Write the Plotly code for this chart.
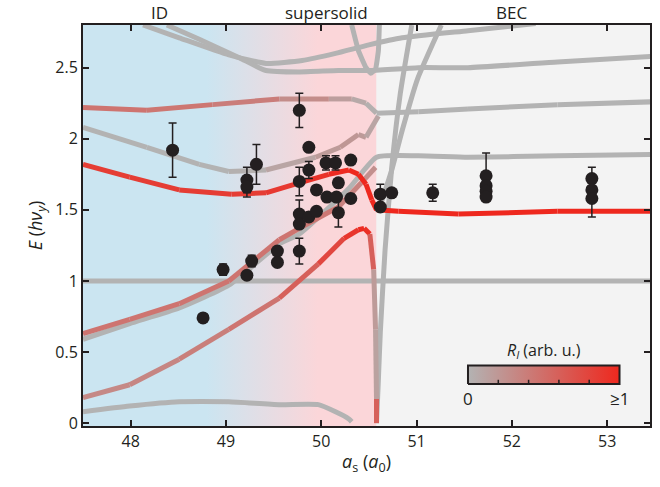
import plotly.graph_objects as go

# ---------------- data ----------------
# measured points: a_s (a0), E (h nu_y), error
pt_a = [48.44, 48.76, 48.97, 49.22, 49.27, 49.22, 49.22, 49.32, 49.77, 49.87, 49.87, 49.77,
        50.05, 50.15, 50.31, 50.18, 49.95, 50.06, 50.16, 50.31, 50.18, 49.77, 49.77, 49.87,
        49.95, 49.77, 49.54, 49.54, 50.62, 50.74, 50.62, 51.17, 51.73, 51.73, 51.73, 51.73,
        52.84, 52.84, 52.84]
pt_E = [1.92, 0.74, 1.08, 1.04, 1.14, 1.71, 1.66, 1.82, 2.20, 1.94, 1.78, 1.70,
        1.83, 1.83, 1.85, 1.69, 1.64, 1.59, 1.59, 1.58, 1.48, 1.47, 1.40, 1.45,
        1.49, 1.21, 1.21, 1.13, 1.61, 1.62, 1.52, 1.62, 1.74, 1.67, 1.63, 1.59,
        1.72, 1.64, 1.58]
pt_err = [0.19, 0.03, 0.04, 0.0, 0.04, 0.09, 0.07, 0.14, 0.12, 0.0, 0.06, 0.10,
          0.05, 0.05, 0.0, 0.0, 0.0, 0.0, 0.0, 0.03, 0.10, 0.10, 0.0, 0.0,
          0.0, 0.09, 0.0, 0.0, 0.07, 0.0, 0.0, 0.06, 0.16, 0.0, 0.0, 0.0,
          0.08, 0.0, 0.13]

# theory curves: (a, E, intensity R)
curve_A_a = [47.50, 47.99, 48.51, 49.03, 49.56, 49.97, 50.15, 50.29, 50.32]
curve_A_E = [0.08, 0.12, 0.15, 0.15, 0.13, 0.13, 0.08, 0.03, 0.01]
curve_A_R = [0.0] * 9

curve_B_a = [47.50, 47.99, 48.51, 49.03, 49.56, 49.97, 50.24, 50.39, 50.45, 50.51, 50.55, 50.57, 50.58, 50.58]
curve_B_E = [0.18, 0.27, 0.45, 0.66, 0.88, 1.12, 1.30, 1.36, 1.37, 1.33, 1.08, 0.66, 0.17, 0.0]
curve_B_R = [0.3, 0.3, 0.35, 0.4, 0.5, 0.7, 0.85, 0.95, 1.0, 0.9, 0.3, 0.05, 0.2, 1.0]

curve_C_a = [50.58, 50.60, 50.62, 50.67, 50.74, 50.83, 50.95]
curve_C_E = [0.0, 0.31, 0.64, 1.22, 1.80, 2.32, 2.80]
curve_C_R = [0.0] * 7

curve_D_a = [50.62, 50.74, 50.85, 51.01, 51.26]
curve_D_E = [1.53, 1.78, 2.06, 2.42, 2.80]
curve_D_R = [0.0] * 5

curve_V_a = [50.32, 50.39, 50.47, 50.52, 50.57, 50.60, 50.61]
curve_V_E = [2.80, 2.62, 2.50, 2.46, 2.49, 2.62, 2.80]
curve_V_R = [0.0] * 7

curve_F0_a = [48.13, 48.51, 49.03, 49.42, 49.80, 50.15, 50.50, 50.85, 51.54, 52.25]
curve_F0_E = [2.80, 2.71, 2.59, 2.53, 2.55, 2.60, 2.66, 2.71, 2.76, 2.81]
curve_F0_R = [0.0] * 10

curve_F1_a = [48.38, 48.72, 49.14, 49.42, 49.77, 50.18, 50.50, 51.02, 51.54, 52.48, 53.48]
curve_F1_E = [2.80, 2.70, 2.57, 2.48, 2.47, 2.48, 2.48, 2.50, 2.50, 2.54, 2.58]
curve_F1_R = [0.0] * 11

curve_K_a = [47.50, 48.17, 48.86, 49.56, 50.08, 50.32, 50.47, 50.58, 51.02, 51.54, 52.48, 53.48]
curve_K_E = [2.22, 2.20, 2.24, 2.28, 2.28, 2.28, 2.25, 2.18, 2.19, 2.21, 2.24, 2.26]
curve_K_R = [0.45, 0.45, 0.42, 0.35, 0.2, 0.1, 0.05, 0.0, 0.0, 0.0, 0.0, 0.0]

curve_H_a = [47.50, 48.17, 48.72, 49.03, 49.42, 49.94, 50.20, 50.39, 50.47, 50.60]
curve_H_E = [2.08, 1.94, 1.82, 1.77, 1.78, 1.87, 1.94, 2.03, 2.01, 2.16]
curve_H_R = [0.0, 0.0, 0.0, 0.0, 0.05, 0.15, 0.2, 0.2, 0.15, 0.05]

curve_G_a = [47.50, 47.99, 48.51, 49.03, 49.56, 49.77, 50.29, 50.58, 51.02, 51.54, 52.48, 53.48]
curve_G_E = [0.59, 0.70, 0.81, 0.97, 1.26, 1.33, 1.65, 1.87, 1.88, 1.87, 1.88, 1.89]
curve_G_R = [0.0] * 12

curve_I_a = [47.50, 47.99, 48.51, 49.03, 49.56, 49.77, 50.18, 50.42, 50.57]
curve_I_E = [0.63, 0.73, 0.84, 1.00, 1.29, 1.37, 1.52, 1.69, 1.80]
curve_I_R = [0.45, 0.45, 0.45, 0.45, 0.45, 0.45, 0.4, 0.3, 0.2]

curve_J_a = [47.50, 47.99, 48.51, 49.06, 49.42, 49.77, 50.08, 50.29, 50.39, 50.47, 50.53, 50.58, 50.81, 51.44, 52.48, 53.48]
curve_J_E = [1.82, 1.73, 1.64, 1.61, 1.62, 1.69, 1.75, 1.78, 1.75, 1.68, 1.57, 1.50, 1.49, 1.47, 1.49, 1.49]
curve_J_R = [0.85, 0.85, 0.85, 0.85, 0.85, 0.9, 0.95, 1.0, 1.0, 1.0, 1.0, 1.0, 1.0, 1.0, 1.0, 1.0]

curve_E1_a = [47.50, 53.48]
curve_E1_E = [1.0, 1.0]
curve_E1_R = [0.0, 0.0]

phase_labels = ["ID", "supersolid", "BEC"]
phase_label_a = [48.3, 50.05, 52.0]
x_ticks = [48, 49, 50, 51, 52, 53]
y_ticks = [0, 0.5, 1, 1.5, 2, 2.5]
y_ticktext = ["0", "0.5", "1", "1.5", "2", "2.5"]

# ---------------- style ----------------
GREY = (179, 179, 179)
RED = (238, 40, 30)
BLUE_BG = "#cbe5f1"
PINK_BG = "#fbd6d9"
BEC_BG = "#f3f3f3"
A_MIN, A_MAX = 47.5, 53.45
E_MIN, E_MAX = -0.02, 2.80
A_BORDER = 50.58
LW = 5
INK = "#231f20"


def mix(r):
    r = max(0.0, min(1.0, r))
    c = [round(GREY[i] + r * (RED[i] - GREY[i])) for i in range(3)]
    return f"rgb({c[0]},{c[1]},{c[2]})"


fig = go.Figure()

# backgrounds
fig.add_trace(go.Scatter(
    x=[A_MIN, A_BORDER, A_BORDER, A_MIN, A_MIN],
    y=[-0.1, -0.1, 2.9, 2.9, -0.1],
    mode="lines", line=dict(width=0), fill="toself",
    fillgradient=dict(type="horizontal",
                      colorscale=[[0, BLUE_BG], [0.42, BLUE_BG], [0.80, PINK_BG], [1, PINK_BG]]),
    hoverinfo="skip", showlegend=False))
fig.add_trace(go.Scatter(
    x=[A_BORDER, 53.6, 53.6, A_BORDER, A_BORDER],
    y=[-0.1, -0.1, 2.9, 2.9, -0.1],
    mode="lines", line=dict(width=0), fill="toself", fillcolor=BEC_BG,
    hoverinfo="skip", showlegend=False))


def draw_curve(xs, ys, rs, smooth=0.5):
    if all(abs(r - rs[0]) < 1e-9 for r in rs):
        line = dict(color=mix(rs[0]), width=LW)
        if smooth > 0:
            line.update(shape="spline", smoothing=smooth)
        fig.add_trace(go.Scatter(x=xs, y=ys, mode="lines", line=line,
                                 hoverinfo="skip", showlegend=False))
        return
    for i in range(len(xs) - 1):
        fig.add_trace(go.Scatter(x=xs[i:i + 2], y=ys[i:i + 2], mode="lines",
                                 line=dict(color=mix(0.5 * (rs[i] + rs[i + 1])), width=LW),
                                 hoverinfo="skip", showlegend=False))


grey_curves = [
    (curve_E1_a, curve_E1_E, curve_E1_R, 0),
    (curve_A_a, curve_A_E, curve_A_R, 0.5),
    (curve_C_a, curve_C_E, curve_C_R, 0.5),
    (curve_D_a, curve_D_E, curve_D_R, 0.5),
    (curve_V_a, curve_V_E, curve_V_R, 0.3),
    (curve_F0_a, curve_F0_E, curve_F0_R, 0.5),
    (curve_F1_a, curve_F1_E, curve_F1_R, 0.5),
    (curve_G_a, curve_G_E, curve_G_R, 0.5),
]
col_curves = [
    (curve_H_a, curve_H_E, curve_H_R, 0),
    (curve_K_a, curve_K_E, curve_K_R, 0),
    (curve_I_a, curve_I_E, curve_I_R, 0),
    (curve_B_a, curve_B_E, curve_B_R, 0),
    (curve_J_a, curve_J_E, curve_J_R, 0),
]
for c in grey_curves + col_curves:
    draw_curve(*c)

# data points
fig.add_trace(go.Scatter(
    x=pt_a, y=pt_E, mode="markers",
    marker=dict(color=INK, size=13),
    error_y=dict(type="data", array=pt_err, visible=True, color=INK, thickness=1.5, width=4),
    hoverinfo="skip", showlegend=False))

# colour-bar legend
cb_x0, cb_x1, cb_y0, cb_y1 = 51.54, 53.13, 0.275, 0.405
fig.add_trace(go.Scatter(
    x=[cb_x0, cb_x1, cb_x1, cb_x0, cb_x0], y=[cb_y0, cb_y0, cb_y1, cb_y1, cb_y0],
    mode="lines", line=dict(color=INK, width=2), fill="toself",
    fillgradient=dict(type="horizontal", colorscale=[[0, mix(0)], [1, mix(1)]]),
    hoverinfo="skip", showlegend=False))
shapes = []
for k in range(1, 5):
    xx = cb_x0 + (cb_x1 - cb_x0) * k / 5
    shapes.append(dict(type="line", xref="x", yref="y", x0=xx, x1=xx, y0=cb_y0, y1=cb_y0 + 0.03,
                       line=dict(color=INK, width=1.5)))

annotations = [
    dict(x=a, y=1.0, xref="x", yref="paper", yanchor="middle", yshift=13, text=t,
         showarrow=False, font=dict(size=17, color=INK))
    for t, a in zip(phase_labels, phase_label_a)
]
annotations += [
    dict(x=0.5 * (cb_x0 + cb_x1), y=cb_y1, xref="x", yref="y", yanchor="bottom", yshift=2,
         text="<i>R<sub>I</sub></i> (arb. u.)", showarrow=False, font=dict(size=16, color=INK)),
    dict(x=cb_x0, y=cb_y0, xref="x", yref="y", yanchor="top", yshift=-1, text="0",
         showarrow=False, font=dict(size=17, color=INK)),
    dict(x=cb_x1, y=cb_y0, xref="x", yref="y", yanchor="top", yshift=-1, text="≥1",
         showarrow=False, font=dict(size=17, color=INK)),
]

fig.update_layout(
    width=660, height=487,
    margin=dict(l=83, r=8, t=25, b=61),
    paper_bgcolor="white", plot_bgcolor=BEC_BG,
    font=dict(family="Open Sans, Noto Sans, sans-serif", size=16, color=INK),
    shapes=shapes, annotations=annotations,
    xaxis=dict(range=[A_MIN, A_MAX], tickvals=x_ticks, ticks="inside", ticklen=6, tickwidth=2,
               tickcolor=INK, showline=True, linecolor=INK, linewidth=2, mirror="ticks",
               showgrid=False, zeroline=False,
               title=dict(text="<i>a</i><sub>s</sub> (<i>a</i><sub>0</sub>)", standoff=4,
                          font=dict(size=18))),
    yaxis=dict(range=[E_MIN, E_MAX], tickvals=y_ticks, ticktext=y_ticktext, ticks="inside",
               ticklen=6, tickwidth=2, tickcolor=INK, showline=True, linecolor=INK,
               linewidth=2, mirror="ticks", showgrid=False, zeroline=False,
               title=dict(text="<i>E</i> (<i>hν</i><sub><i>y</i></sub>)", standoff=8,
                          font=dict(size=18))),
)

fig.write_html("out.html")
